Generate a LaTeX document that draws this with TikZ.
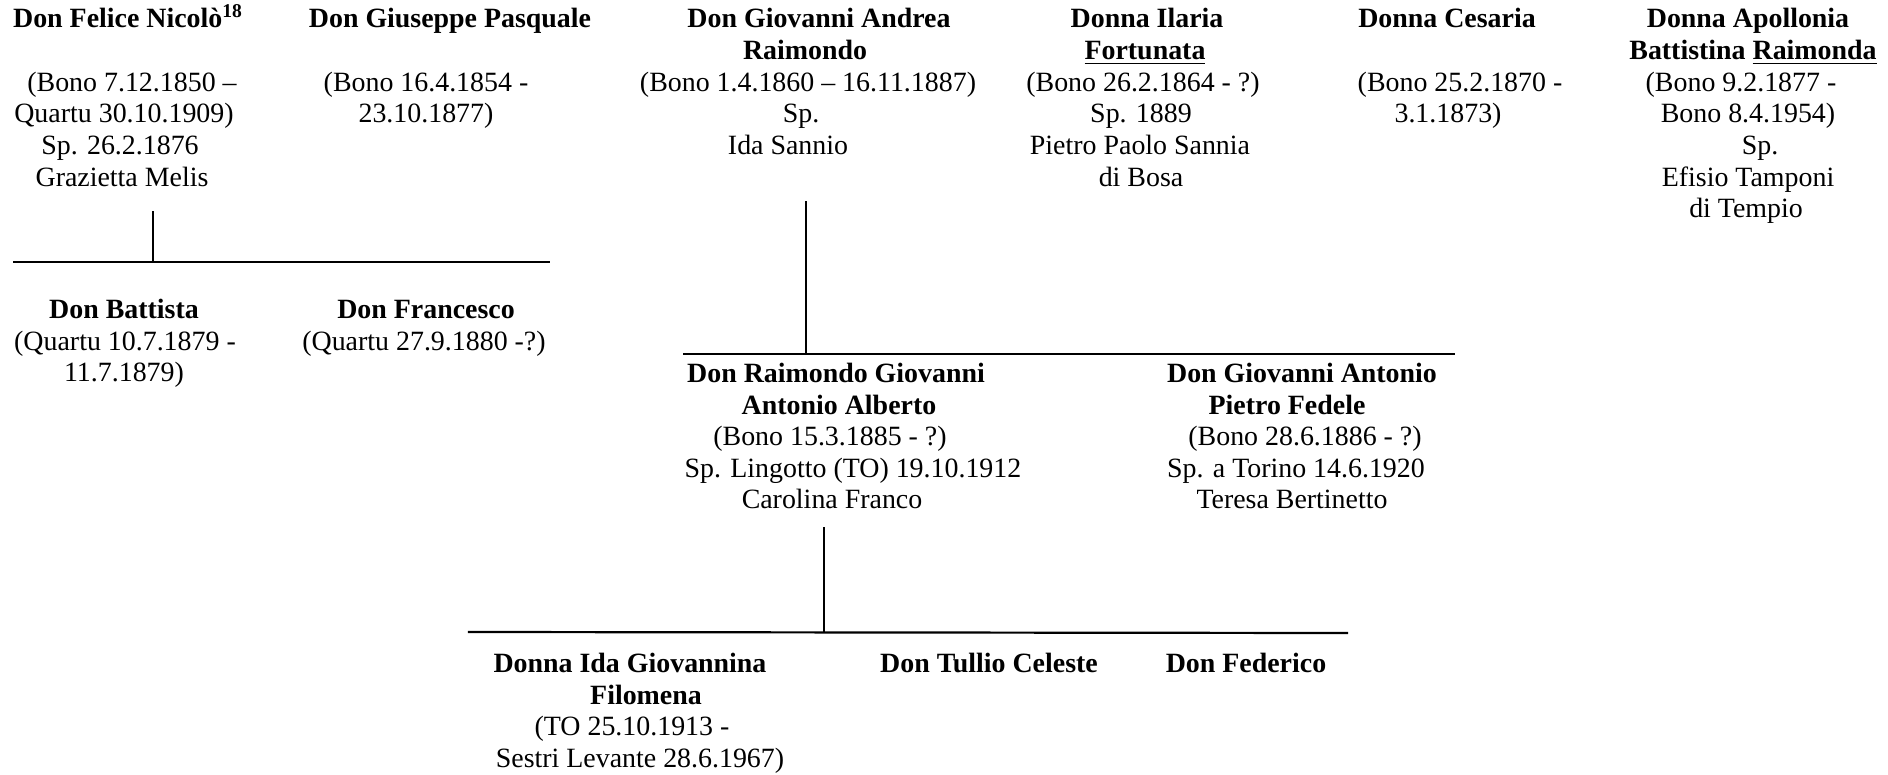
\documentclass[tikz,border=0pt]{standalone}
\usepackage{fontspec}
\setmainfont{Liberation Serif}
\tikzset{
  txt/.style={anchor=base, inner sep=0pt, outer sep=0pt, font=\fontsize{13.95}{15.8}\selectfont},
  ttl/.style={txt, font=\fontsize{13.95}{15.8}\selectfont\bfseries},
  link/.style={line width=1.1pt, line cap=rect}
}
\begin{document}
\begin{tikzpicture}[x=0.5pt, y=-0.5pt]
\useasboundingbox[fill=white] (0,0) rectangle (1888,775);

% --- Don Felice Nicolo
\node[ttl] (fa) at (128,28) {Don Felice Nicolò\textsuperscript{18}};
\node[txt] (fb) at (132,92) {(Bono 7.12.1850 –};
\node[txt] (fc) at (124,123) {Quartu 30.10.1909)};
\node[txt] (fd) at (120,155) {Sp. 26.2.1876};
\node[txt] (fe) at (122,187) {Grazietta Melis};

% --- Don Giuseppe Pasquale
\node[ttl] (ga) at (450,28) {Don Giuseppe Pasquale};
\node[txt] (gb) at (426,92) {(Bono 16.4.1854 -};
\node[txt] (gc) at (426,123) {23.10.1877)};

% --- Don Giovanni Andrea Raimondo
\node[ttl] (ra) at (819,28) {Don Giovanni Andrea};
\node[ttl] (rb) at (805,60) {Raimondo};
\node[txt] (rc) at (808,92) {(Bono 1.4.1860 – 16.11.1887)};
\node[txt] (rd) at (801,123) {Sp.};
\node[txt] (re) at (788,155) {Ida Sannio};

% --- Donna Ilaria Fortunata
\node[ttl] (ia) at (1147,28) {Donna Ilaria};
\node[ttl] (ib) at (1145,60) {\underline{Fortunata}};
\node[txt] (ic) at (1143,92) {(Bono 26.2.1864 - ?)};
\node[txt] (id) at (1141,123) {Sp. 1889};
\node[txt] (ie) at (1140,155) {Pietro Paolo Sannia};
\node[txt] (if) at (1141,187) {di Bosa};

% --- Donna Cesaria
\node[ttl] (ca) at (1447,28) {Donna Cesaria};
\node[txt] (cb) at (1460,92) {(Bono 25.2.1870 -};
\node[txt] (cc) at (1448,123) {3.1.1873)};

% --- Donna Apollonia
\node[ttl] (aa) at (1748,28) {Donna Apollonia};
\node[ttl] (ab) at (1753,60) {Battistina \underline{Raimonda}};
\node[txt] (ac) at (1741,92) {(Bono 9.2.1877 -};
\node[txt] (ad) at (1748,123) {Bono 8.4.1954)};
\node[txt] (ae) at (1760,155) {Sp.};
\node[txt] (af) at (1748,187) {Efisio Tamponi};
\node[txt] (ag) at (1746,218) {di Tempio};

% --- children of Felice
\node[ttl] (ba) at (124,318) {Don Battista};
\node[txt] (bb) at (125,350) {(Quartu 10.7.1879 -};
\node[txt] (bc) at (124,381) {11.7.1879)};
\node[ttl] (na) at (426,318) {Don Francesco};
\node[txt] (nb) at (424,350) {(Quartu 27.9.1880 -?)};

% --- children of Giovanni Andrea
\node[ttl] (ma) at (836,382) {Don Raimondo Giovanni};
\node[ttl] (mb) at (839,414) {Antonio Alberto};
\node[txt] (mc) at (830,445) {(Bono 15.3.1885 - ?)};
\node[txt] (md) at (853,477) {Sp. Lingotto (TO) 19.10.1912};
\node[txt] (me) at (832,508) {Carolina Franco};
\node[ttl] (pa) at (1302,382) {Don Giovanni Antonio};
\node[ttl] (pb) at (1287,414) {Pietro Fedele};
\node[txt] (pc) at (1305,445) {(Bono 28.6.1886 - ?)};
\node[txt] (pd) at (1296,477) {Sp. a Torino 14.6.1920};
\node[txt] (pe) at (1292,508) {Teresa Bertinetto};

% --- children of Raimondo
\node[ttl] (da) at (630,672) {Donna Ida Giovannina};
\node[ttl] (db) at (646,704) {Filomena};
\node[txt] (dc) at (632,735) {(TO 25.10.1913 -};
\node[txt] (dd) at (640,767) {Sestri Levante 28.6.1967)};
\node[ttl] (ta) at (989,672) {Don Tullio Celeste};
\node[ttl] (ea) at (1246,672) {Don Federico};

% --- connectors
\coordinate (l1t) at (153,212);
\coordinate (l1b) at (153,262);
\coordinate (h1l) at (14,262);
\coordinate (h1r) at (549,262);
\draw[link] (l1t) -- (l1b);
\draw[link] (h1l) -- (h1r);

\coordinate (l2t) at (806,202);
\coordinate (l2b) at (806,353);
\coordinate (h2l) at (684,354);
\coordinate (h2r) at (1454,354);
\draw[link] (l2t) -- (l2b);
\draw[link] (h2l) -- (h2r);

\coordinate (l3t) at (824,528);
\coordinate (l3b) at (824,632);
\coordinate (h3l) at (469,632);
\coordinate (h3r) at (1347,633);
\draw[link] (l3t) -- (l3b);
\draw[link] (h3l) -- (h3r);
\end{tikzpicture}
\end{document}
